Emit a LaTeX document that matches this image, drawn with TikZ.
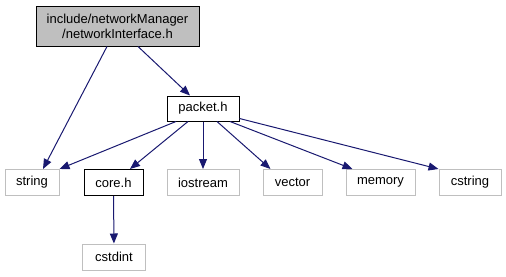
\documentclass[tikz,border=0pt]{standalone}
\usepackage{fontspec}
\setmainfont{Liberation Sans}
\usetikzlibrary{arrows.meta}

\definecolor{edgeblue}{HTML}{191970}
\definecolor{boxgray}{HTML}{BFBFBF}

\tikzset{
	file/.style={draw=black,fill=white,line width=1pt,inner sep=0pt,minimum height=26pt,font=\fontsize{13}{15}\selectfont},
	sysfile/.style={file,draw=boxgray},
	incl/.style={draw=edgeblue,line width=1pt,-{Triangle[length=10pt,width=8pt,fill=edgeblue]}}
}

\begin{document}
\begin{tikzpicture}[x=1pt,y=-1pt]
		\useasboundingbox (0,0) rectangle (506,276);

		% the header and what it pulls in
		\node[file,fill=boxgray,minimum width=163pt,minimum height=40pt,align=center] (netif) at (117.5,26) {include/networkManager\\/networkInterface.h};
		\node[file,minimum width=72pt,minimum height=25pt] (packet) at (203,108.5) {packet.h};

		\node[sysfile,minimum width=54pt] (string) at (32,182.5) {string};
		\node[file,minimum width=59pt] (core) at (113.5,182.5) {core.h};
		\node[sysfile,minimum width=72pt] (iostream) at (203,182.5) {iostream};
		\node[sysfile,minimum width=59pt] (vector) at (292.5,182.5) {vector};
		\node[sysfile,minimum width=69pt] (memory) at (380.5,182.5) {memory};
		\node[sysfile,minimum width=62pt] (cstring) at (470,182.5) {cstring};
		\node[sysfile,minimum width=63pt] (cstdint) at (114,257) {cstdint};

		\draw[incl] ([xshift=-10.5pt]netif.south) -- ([xshift=11pt]string.north);
		\draw[incl] ([xshift=20.5pt]netif.south) -- ([xshift=-13pt]packet.north);

		\draw[incl] ([xshift=-27pt]packet.south) -- (string.north east);
		\draw[incl] ([xshift=-15pt]packet.south) -- ([xshift=16.5pt]core.north);
		\draw[incl] (packet.south) -- (iostream.north);
		\draw[incl] ([xshift=14pt]packet.south) -- ([xshift=-22pt]vector.north);
		\draw[incl] ([xshift=27pt]packet.south) -- ([xshift=-28pt]memory.north);
		\draw[incl] ([yshift=3pt]packet.south east) -- (cstring.north west);

		\draw[incl] (core) -- (cstdint);
\end{tikzpicture}
\end{document}
